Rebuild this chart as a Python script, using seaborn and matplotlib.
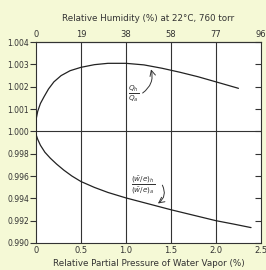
import numpy as np
import pandas as pd
import matplotlib
matplotlib.use("Agg")
import matplotlib.pyplot as plt
import seaborn as sns

# values
pressure_q = [0, 0.005, 0.02, 0.05, 0.09, 0.14, 0.2, 0.28, 0.38, 0.5, 0.65, 0.8,
              1.0, 1.2, 1.4, 1.6, 1.8, 2.0, 2.25]
ratio_q = [1.0, 1.0006, 1.0009, 1.00125, 1.00155, 1.0019, 1.00222, 1.0025, 1.00272,
           1.00287, 1.00299, 1.00305, 1.00305, 1.00298, 1.00283, 1.00265, 1.00245,
           1.00222, 1.00193]

pressure_w = [0, 0.005, 0.02, 0.05, 0.1, 0.16, 0.23, 0.31, 0.4, 0.5, 0.65, 0.8,
              1.0, 1.25, 1.5, 1.75, 2.0, 2.2, 2.39]
ratio_w = [1.0, 0.99964, 0.99929, 0.99876, 0.99813, 0.9976, 0.99707, 0.99653,
           0.996, 0.99551, 0.99498, 0.99453, 0.99404, 0.99351, 0.99298, 0.99249,
           0.992, 0.99169, 0.99138]

x_ticks = [0, 0.5, 1.0, 1.5, 2.0, 2.5]
x_labels = ["0", "0.5", "1.0", "1.5", "2.0", "2.5"]
humidity_labels = ["0", "19", "38", "58", "77", "96"]
y_ticks = [0.990, 0.992, 0.994, 0.996, 0.998, 1.000, 1.001, 1.002, 1.003, 1.004]
y_labels = ["0.990", "0.992", "0.994", "0.996", "0.998", "1.000", "1.001",
            "1.002", "1.003", "1.004"]

sns.set_style("white")
plt.rcParams["font.family"] = ["DejaVu Sans"]

bg = "#f5f9d6"
ink = "#333333"

df_q = pd.DataFrame({"p": pressure_q, "r": ratio_q})
df_w = pd.DataFrame({"p": pressure_w, "r": ratio_w})


# broken scale: 0.001 per step above 1.000, 0.002 per step below
def fwd(y):
    y = np.asarray(y, dtype=float)
    return np.where(y >= 1, (y - 1) * 1000, (y - 1) * 500)


def inv(t):
    t = np.asarray(t, dtype=float)
    return np.where(t >= 0, 1 + t / 1000, 1 + t / 500)


fig = plt.figure(figsize=(2.66, 2.70), dpi=100, facecolor=bg)
ax = fig.add_axes([0.135, 0.1, 0.846, 0.744])
ax.set_facecolor("white")

ax.set_yscale("function", functions=(fwd, inv))
ax.set_xlim(0, 2.5)
ax.set_ylim(0.990, 1.004)

for xv in x_ticks[1:-1]:
    ax.axvline(xv, color=ink, lw=0.8, zorder=1)
ax.axhline(1.0, color=ink, lw=0.8, zorder=1)

sns.lineplot(data=df_q, x="p", y="r", ax=ax, color="#222222", lw=0.9, zorder=3)
sns.lineplot(data=df_w, x="p", y="r", ax=ax, color="#222222", lw=0.9, zorder=3)

ax.set_xticks(x_ticks, x_labels)
ax.set_yticks(y_ticks, y_labels)
ax.minorticks_off()
ax.tick_params(axis="x", length=0, labelsize=6, pad=2, colors=ink)
ax.tick_params(axis="y", which="both", direction="out", length=4, width=0.8,
               labelsize=5.5, pad=1, colors=ink)
ax.set_xlabel("Relative Partial Pressure of Water Vapor (%)", fontsize=6.3,
              color=ink, labelpad=3)
ax.set_ylabel("")
for s in ax.spines.values():
    s.set_color(ink)
    s.set_linewidth(0.8)

# right side ticks point inward, same broken scale
axr = ax.twinx()
axr.set_yscale("function", functions=(fwd, inv))
axr.set_ylim(0.990, 1.004)
axr.set_yticks(y_ticks, [""] * len(y_ticks))
axr.minorticks_off()
axr.tick_params(axis="y", direction="in", length=4, width=0.8, colors=ink)
for s in axr.spines.values():
    s.set_visible(False)

top = ax.secondary_xaxis("top")
top.set_xticks(x_ticks, humidity_labels)
top.tick_params(length=0, labelsize=6, pad=2, colors=ink)
top.set_xlabel("Relative Humidity (%) at 22\u00b0C, 760 torr", fontsize=6.3,
               color=ink, labelpad=7)

ax.text(1.08, 1.0017, r"$\frac{Q_h}{Q_a}$", fontsize=7.5, ha="center",
        va="center", color=ink)
ax.annotate("", xy=(1.27, 1.00290), xytext=(1.16, 1.00165),
            arrowprops=dict(arrowstyle="->", color=ink, lw=0.7,
                            connectionstyle="arc3,rad=0.4"))

ax.text(1.19, 0.9952, r"$\frac{(\bar{w}/e)_h}{(\bar{w}/e)_a}$", fontsize=7.5,
        ha="center", va="center", color=ink)
ax.annotate("", xy=(1.33, 0.99340), xytext=(1.39, 0.99540),
            arrowprops=dict(arrowstyle="->", color=ink, lw=0.7,
                            connectionstyle="arc3,rad=-0.5"))

fig.savefig("out.png", dpi=100, facecolor=bg)
